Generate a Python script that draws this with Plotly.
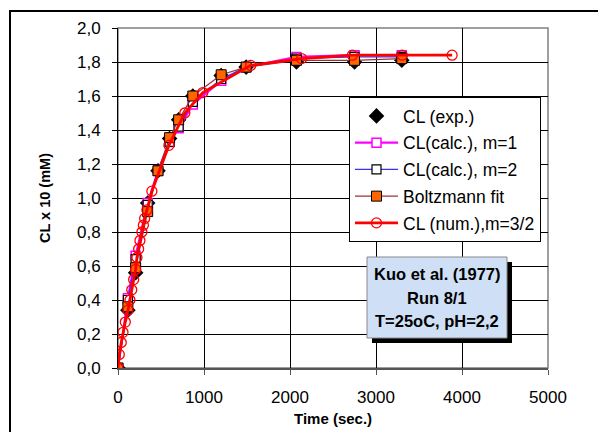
import plotly.graph_objects as go

# ---- data ----
t_exp = [0, 115, 205, 345, 465, 600, 705, 870, 1200, 1490, 2075, 2750, 3300]
cl_exp = [0, 0.34, 0.56, 0.97, 1.16, 1.35, 1.46, 1.60, 1.72, 1.77, 1.80, 1.80, 1.81]
cl_m1 = [0, 0.41, 0.66, 0.97, 1.16, 1.33, 1.41, 1.55, 1.69, 1.77, 1.83, 1.84, 1.84]
cl_m2 = [0, 0.40, 0.64, 0.96, 1.16, 1.33, 1.42, 1.565, 1.70, 1.77, 1.82, 1.83, 1.83]
cl_boltz = [0, 0.36, 0.59, 0.92, 1.16, 1.355, 1.46, 1.60, 1.725, 1.77, 1.81, 1.81, 1.82]
t_num = [0, 15, 38, 58, 85, 116, 139, 160, 182, 205, 220, 240, 255, 278, 295, 310, 336,
         394, 592, 777, 986, 1543, 2135, 2725, 3305, 3885]
cl_num = [0, 0.08, 0.15, 0.21, 0.27, 0.34, 0.40, 0.46, 0.52, 0.58, 0.65, 0.70, 0.75, 0.80,
          0.84, 0.88, 0.93, 1.04, 1.31, 1.50, 1.62, 1.78, 1.82, 1.84, 1.84, 1.84]

names = ["CL (exp.)", "CL(calc.), m=1", "CL(calc.), m=2", "Boltzmann fit", "CL (num.),m=3/2"]
x_ticks = [0, 1000, 2000, 3000, 4000, 5000]
y_ticks = [0, 0.2, 0.4, 0.6, 0.8, 1.0, 1.2, 1.4, 1.6, 1.8, 2.0]
box_lines = ["Kuo et al. (1977)", "Run 8/1", "T=25oC, pH=2,2"]

FONT = "Liberation Sans, Arial, sans-serif"
W, H = 598, 432
L, R, T, B = 118, 50, 28, 64
PW, PH = W - L - R, H - T - B


def px(xp):
    return (xp - L) / PW


def py(yp):
    return (H - B - yp) / PH


fig = go.Figure()
fig.add_trace(go.Scatter(x=t_exp, y=cl_exp, mode="markers", name=names[0], legendgroup="a",
                         marker=dict(symbol="diamond", size=12, color="black")))
fig.add_trace(go.Scatter(x=t_exp, y=cl_m1, mode="lines+markers", name=names[1], legendgroup="b",
                         line=dict(color="#ff00ff", width=2.2),
                         marker=dict(symbol="square", size=9, color="white",
                                     line=dict(color="#ff00ff", width=1.5))))
fig.add_trace(go.Scatter(x=t_exp, y=cl_m2, mode="lines+markers", name=names[2], legendgroup="c",
                         line=dict(color="#3333ff", width=1.2),
                         marker=dict(symbol="square", size=9, color="white",
                                     line=dict(color="black", width=1.2))))
fig.add_trace(go.Scatter(x=t_exp, y=cl_boltz, mode="lines+markers", name=names[3], legendgroup="d",
                         line=dict(color="#993333", width=1.2),
                         marker=dict(symbol="square", size=10, color="#ff6600",
                                     line=dict(color="black", width=1))))
fig.add_trace(go.Scatter(x=t_num, y=cl_num, mode="lines+markers", name=names[4], legendgroup="e",
                         line=dict(color="#ff0000", width=2.8),
                         marker=dict(symbol="circle-open", size=10, color="#ff0000",
                                     line=dict(width=1.3))))

# shapes: chart frame, plot border, text box with shadow
x0b, x1b, y0b, y1b = 367, 507, 257, 338
shapes = [
    dict(type="rect", xref="paper", yref="paper", x0=px(10), x1=px(640), y0=py(11), y1=py(470),
         line=dict(color="black", width=2), fillcolor="rgba(0,0,0,0)", layer="below"),
    dict(type="rect", xref="paper", yref="paper", x0=0, x1=1, y0=0, y1=1,
         line=dict(color="#808080", width=1.5), fillcolor="rgba(0,0,0,0)", layer="below"),
    dict(type="rect", xref="paper", yref="paper", x0=px(x0b + 5), x1=px(x1b + 5),
         y0=py(y1b + 5), y1=py(y0b + 5), line=dict(width=0), fillcolor="black", layer="above"),
    dict(type="rect", xref="paper", yref="paper", x0=px(x0b), x1=px(x1b),
         y0=py(y1b), y1=py(y0b), line=dict(color="#888888", width=1), fillcolor="#cfe0f6",
         layer="above"),
]

annotations = []
for i, s in enumerate(box_lines):
    annotations.append(dict(text="<b>%s</b>" % s, xref="paper", yref="paper",
                            x=px((x0b + x1b) / 2), y=py(274 + 23.5 * i), showarrow=False,
                            xanchor="center", yanchor="middle",
                            font=dict(family=FONT, size=16.5, color="black")))
annotations.append(dict(text="<b>CL x 10 (mM)</b>", xref="paper", yref="paper", x=px(45), y=0.5,
                        textangle=-90, showarrow=False, xanchor="center", yanchor="middle",
                        font=dict(family=FONT, size=14.5, color="black")))
annotations.append(dict(text="<b>Time (sec.)</b>", xref="paper", yref="paper", x=0.5, y=py(419),
                        showarrow=False, xanchor="center", yanchor="middle",
                        font=dict(family=FONT, size=15, color="black")))

fig.update_layout(
    width=W, height=H, margin=dict(l=L, r=R, t=T, b=B),
    paper_bgcolor="white", plot_bgcolor="white",
    separators=",.",
    font=dict(family=FONT, size=17, color="black"),
    showlegend=True,
    legend=dict(x=px(349), y=py(97), xanchor="left", yanchor="top",
                bgcolor="white", bordercolor="black", borderwidth=1,
                font=dict(family=FONT, size=17.5, color="black"),
                tracegroupgap=1, itemwidth=43, traceorder="grouped",
                entrywidth=143, entrywidthmode="pixels"),
    shapes=shapes, annotations=annotations,
    xaxis=dict(range=[0, 5000], tickvals=x_ticks, tickformat="d", showgrid=True,
               gridcolor="black", gridwidth=1, zeroline=False, showline=True,
               linecolor="#555555", linewidth=2, ticks="outside", ticklen=5,
               tickcolor="#555555", ticklabelstandoff=8,
               tickfont=dict(family=FONT, size=17)),
    yaxis=dict(range=[0, 2.0], tickvals=y_ticks, tickformat=".1f", showgrid=True,
               gridcolor="black", gridwidth=1, zeroline=False, showline=True,
               linecolor="black", linewidth=1, ticks="outside", ticklen=5,
               tickcolor="black", ticklabelstandoff=8,
               tickfont=dict(family=FONT, size=17)),
)

fig.write_html("out.html")
